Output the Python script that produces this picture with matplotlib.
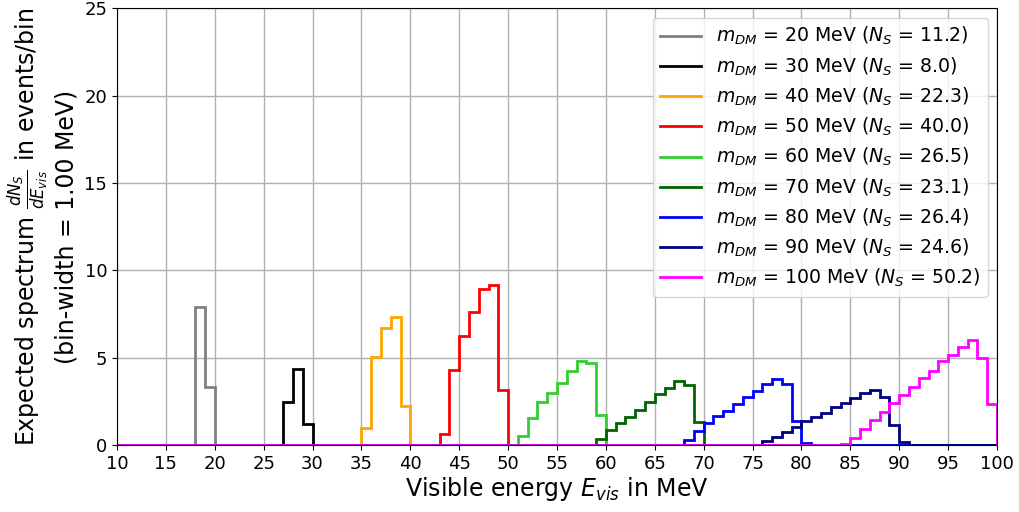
import numpy as np
import matplotlib
matplotlib.use("Agg")
import matplotlib.pyplot as plt

bin_edges = np.arange(10, 101, 1)

masses = [20, 30, 40, 50, 60, 70, 80, 90, 100]
n_signal = [11.2, 8.0, 22.3, 40.0, 26.5, 23.1, 26.4, 24.6, 50.2]
colors = ["gray", "black", "orange", "red", "limegreen", "darkgreen", "blue", "navy", "magenta"]

# first non-empty bin (lower edge, MeV) and per-bin contents
start_20, vals_20 = 18, [7.9, 3.3]
start_30, vals_30 = 27, [2.45, 4.35, 1.2]
start_40, vals_40 = 35, [0.95, 5.05, 6.7, 7.35, 2.25]
start_50, vals_50 = 43, [0.6, 4.3, 6.25, 7.6, 8.95, 9.15, 3.15]
start_60, vals_60 = 51, [0.5, 1.55, 2.45, 3.0, 3.55, 4.25, 4.8, 4.7, 1.7]
start_70, vals_70 = 59, [0.32, 0.85, 1.27, 1.6, 2.02, 2.47, 2.9, 3.28, 3.66, 3.45, 1.3]
start_80, vals_80 = 68, [0.3, 0.8, 1.28, 1.66, 1.95, 2.33, 2.72, 3.1, 3.48, 3.78, 3.48, 1.38, 0.12]
start_90, vals_90 = 76, [0.2, 0.46, 0.72, 1.02, 1.36, 1.58, 1.85, 2.15, 2.42, 2.7, 3.0, 3.16, 2.76, 1.14, 0.15]
start_100, vals_100 = 84, [0.08, 0.38, 0.92, 1.42, 1.88, 2.42, 2.84, 3.32, 3.82, 4.24, 4.82, 5.14, 5.62, 6.02, 5.0, 2.32]

starts = [start_20, start_30, start_40, start_50, start_60, start_70, start_80, start_90, start_100]
vals = [vals_20, vals_30, vals_40, vals_50, vals_60, vals_70, vals_80, vals_90, vals_100]

fig = plt.figure(figsize=(10.2, 5.12), dpi=100)
ax = fig.add_axes([0.1147, 0.131, 0.8628, 0.853])

for m, ns, c, s, v in zip(masses, n_signal, colors, starts, vals):
    full = np.zeros(len(bin_edges) - 1)
    i0 = int(s - bin_edges[0])
    full[i0:i0 + len(v)] = v
    ax.stairs(full, bin_edges, color=c, linewidth=2,
              label=r"$m_{DM}$ = %d MeV ($N_S$ = %.1f)" % (m, ns))

ax.set_xlim(10, 100)
ax.set_ylim(0, 25)
ax.set_xticks(np.arange(10, 101, 5))
ax.set_yticks(np.arange(0, 26, 5))
ax.tick_params(labelsize=13)
ax.grid(True, color="#b0b0b0", linewidth=1)
ax.set_axisbelow(True)
ax.set_xlabel(r"Visible energy $E_{vis}$ in MeV", fontsize=17, labelpad=2)
ax.set_ylabel("Expected spectrum $\\frac{dN_S}{dE_{vis}}$ in events/bin\n(bin-width = 1.00 MeV)",
              fontsize=17)
ax.legend(loc="upper right", fontsize=13.6, framealpha=0.8, handlelength=2.15,
          labelspacing=0.42)

fig.savefig("out.png", dpi=100)
